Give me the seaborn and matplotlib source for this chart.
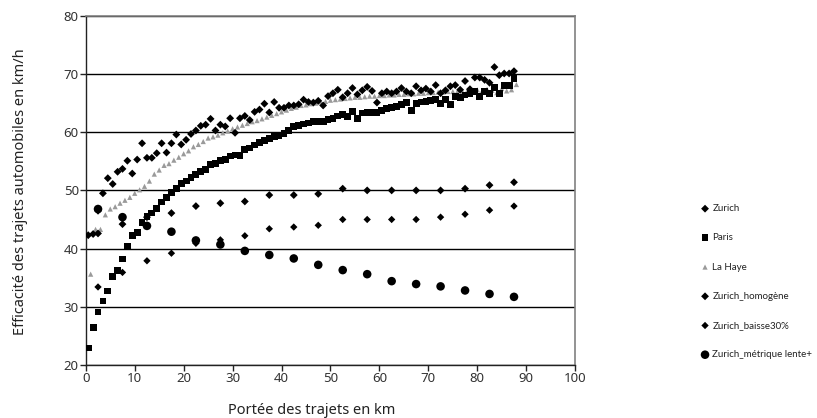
import matplotlib
matplotlib.use("Agg")
import matplotlib.pyplot as plt
import seaborn as sns

# distances (km) for the dense series
dist_half = [0.5, 1.5, 2.5, 3.5, 4.5, 5.5, 6.5, 7.5, 8.5, 9.5, 10.5, 11.5, 12.5, 13.5, 14.5, 15.5,
             16.5, 17.5, 18.5, 19.5, 20.5, 21.5, 22.5, 23.5, 24.5, 25.5, 26.5, 27.5, 28.5, 29.5,
             30.5, 31.5, 32.5, 33.5, 34.5, 35.5, 36.5, 37.5, 38.5, 39.5, 40.5, 41.5, 42.5, 43.5,
             44.5, 45.5, 46.5, 47.5, 48.5, 49.5, 50.5, 51.5, 52.5, 53.5, 54.5, 55.5, 56.5, 57.5,
             58.5, 59.5, 60.5, 61.5, 62.5, 63.5, 64.5, 65.5, 66.5, 67.5, 68.5, 69.5, 70.5, 71.5,
             72.5, 73.5, 74.5, 75.5, 76.5, 77.5, 78.5, 79.5, 80.5, 81.5, 82.5, 83.5, 84.5, 85.5,
             86.5, 87.5]
dist_int = [1, 2, 3, 4, 5, 6, 7, 8, 9, 10, 11, 12, 13, 14, 15, 16, 17, 18, 19, 20, 21, 22, 23,
            24, 25, 26, 27, 28, 29, 30, 31, 32, 33, 34, 35, 36, 37, 38, 39, 40, 41, 42, 43, 44,
            45, 46, 47, 48, 49, 50, 51, 52, 53, 54, 55, 56, 57, 58, 59, 60, 61, 62, 63, 64, 65,
            66, 67, 68, 69, 70, 71, 72, 73, 74, 75, 76, 77, 78, 79, 80, 81, 82, 83, 84, 85, 86,
            87, 88]
# distances for the sparse scenario series
dist_5 = [2.5, 7.5, 12.5, 17.5, 22.5, 27.5, 32.5, 37.5, 42.5, 47.5, 52.5, 57.5, 62.5, 67.5,
          72.5, 77.5, 82.5, 87.5]

zurich = [42.3, 42.5, 46.5, 49.5, 52.1, 51.1, 53.2, 53.7, 55.1, 52.9, 55.3, 58.1, 55.6, 55.6,
          56.4, 58.1, 56.5, 58.1, 59.6, 57.9, 58.7, 59.7, 60.3, 61.1, 61.3, 62.3, 60.3, 61.3,
          61.0, 62.4, 59.9, 62.4, 62.8, 62.1, 63.5, 63.9, 64.9, 63.4, 65.2, 64.2, 64.2, 64.6,
          64.6, 64.8, 65.6, 65.2, 65.1, 65.4, 64.6, 66.2, 66.7, 67.3, 66.0, 66.7, 67.6, 66.5,
          67.2, 67.8, 67.1, 65.1, 66.7, 67.0, 66.7, 67.0, 67.6, 67.0, 66.7, 67.9, 67.2, 67.5,
          67.0, 68.1, 66.7, 67.2, 67.9, 68.1, 67.3, 68.8, 67.4, 69.4, 69.4, 69.0, 68.5, 71.2,
          69.8, 70.1, 70.1, 70.5]
paris = [22.9, 26.5, 29.1, 31.0, 32.7, 35.2, 36.2, 38.2, 40.4, 42.2, 42.7, 44.5, 45.5, 46.1,
         46.9, 48.0, 48.8, 49.6, 50.3, 51.2, 51.6, 52.2, 52.8, 53.2, 53.6, 54.4, 54.6, 55.2,
         55.3, 55.9, 56.1, 56.0, 57.0, 57.3, 57.8, 58.2, 58.6, 58.9, 59.2, 59.5, 59.8, 60.3,
         61.0, 61.2, 61.4, 61.6, 61.8, 61.8, 61.9, 62.2, 62.4, 62.8, 63.0, 62.7, 63.5, 62.4,
         63.3, 63.4, 63.4, 63.4, 63.8, 64.1, 64.2, 64.4, 64.8, 65.1, 63.8, 65.0, 65.2, 65.3,
         65.4, 65.6, 65.0, 65.6, 64.7, 66.2, 66.0, 66.4, 66.7, 67.0, 66.1, 67.0, 66.6, 67.7,
         66.7, 68.0, 68.0, 69.2]
la_haye = [35.6, 43.3, 43.3, 45.8, 46.8, 47.2, 47.8, 48.3, 48.8, 49.5, 50.1, 50.7, 51.6, 52.8,
           53.5, 54.3, 54.6, 55.2, 55.7, 56.3, 56.8, 57.5, 57.9, 58.4, 59.0, 59.2, 59.5, 59.9,
           60.2, 60.6, 60.9, 61.2, 61.5, 61.8, 62.0, 62.3, 62.6, 62.9, 63.2, 63.5, 63.8, 64.1,
           64.3, 64.6, 64.7, 64.9, 65.0, 65.2, 65.3, 65.5, 65.6, 65.7, 65.8, 65.9, 66.0, 66.0,
           66.1, 66.2, 66.2, 66.3, 66.3, 66.4, 66.4, 66.5, 66.5, 66.6, 66.6, 66.7, 66.7, 66.8,
           66.8, 66.9, 66.9, 67.0, 67.0, 67.1, 66.9, 67.2, 67.0, 67.3, 67.1, 67.4, 67.2, 66.8,
           67.5, 67.1, 67.3, 68.2]
zurich_homogene = [42.6, 44.2, 45.4, 46.1, 47.3, 47.8, 48.1, 49.2, 49.2, 49.4, 50.3, 50.0,
                   50.0, 50.0, 50.0, 50.3, 50.9, 51.4]
zurich_baisse = [33.4, 35.9, 37.9, 39.2, 40.9, 41.5, 42.2, 43.4, 43.7, 44.0, 45.0, 45.0, 45.0,
                 45.0, 45.4, 45.9, 46.6, 47.3]
zurich_lente = [46.8, 45.4, 43.9, 42.9, 41.4, 40.7, 39.6, 38.9, 38.3, 37.2, 36.3, 35.6, 34.4,
                33.9, 33.5, 32.8, 32.2, 31.7]

sns.set_style("white")
plt.rcParams['font.family'] = ['Noto Sans', 'DejaVu Sans']

fig = plt.figure(figsize=(8.17, 4.18), dpi=100)
ax = fig.add_axes([0.105, 0.127, 0.599, 0.835])

sns.scatterplot(x=dist_half, y=zurich, marker='D', s=16, color='black', edgecolor='none',
                label='Zurich', ax=ax, zorder=4)
sns.scatterplot(x=dist_half, y=paris, marker='s', s=24, color='black', edgecolor='none',
                label='Paris', ax=ax, zorder=4)
sns.scatterplot(x=dist_int, y=la_haye, marker='^', s=14, color='#9a9a9a', edgecolor='none',
                label='La Haye', ax=ax, zorder=3)
sns.scatterplot(x=dist_5, y=zurich_homogene, marker='D', s=16, color='black', edgecolor='none',
                label='Zurich_homogène', ax=ax, zorder=4)
sns.scatterplot(x=dist_5, y=zurich_baisse, marker='D', s=14, color='black', edgecolor='none',
                label='Zurich_baisse30%', ax=ax, zorder=4)
sns.scatterplot(x=dist_5, y=zurich_lente, marker='o', s=38, color='black', edgecolor='none',
                label='Zurich_métrique lente+', ax=ax, zorder=5)

ax.set_xlim(0, 100)
ax.set_ylim(20, 80)
ax.set_xticks(range(0, 101, 10))
ax.set_yticks(range(20, 81, 10))
ax.yaxis.grid(True, color='black', linewidth=1)
ax.xaxis.grid(False)
ax.set_axisbelow(True)
for side in ['top', 'right']:
    ax.spines[side].set_color('#808080')
    ax.spines[side].set_linewidth(1.2)
for side in ['left', 'bottom']:
    ax.spines[side].set_color('#222222')
    ax.spines[side].set_linewidth(1)
ax.tick_params(axis='both', direction='out', length=4, width=1, color='#222222',
               labelsize=9.5, labelcolor='#333333', pad=1)
ax.tick_params(axis='x', bottom=True)
ax.tick_params(axis='y', left=True)

ax.set_xlabel('Portée des trajets en km', fontsize=10.5, color='#222222')
ax.set_ylabel('Efficacité des trajets automobiles en km/h', fontsize=10.5, color='#222222')
ax.xaxis.set_label_coords(0.462, -0.11)
ax.yaxis.set_label_coords(-0.118, 0.495)

# legend on the right, shrink the text until the longest label fits in the figure
handles, labels = ax.get_legend_handles_labels()
leg_font = ['Noto Sans Condensed', 'Lato', 'DejaVu Sans']
for size in [9.5, 9, 8.5, 8, 7.5, 7]:
    leg = ax.legend(handles, labels, loc='center left', bbox_to_anchor=(0.857, 0.326),
                    bbox_transform=fig.transFigure, frameon=False,
                    prop={'family': leg_font, 'size': size, 'stretch': 'condensed'},
                    labelspacing=(21.2 - 0.95 * size) / size, handletextpad=0.25,
                    handlelength=1.0, borderaxespad=0, borderpad=0)
    fig.canvas.draw()
    if leg.get_window_extent().x1 <= 814:
        break
for t in leg.get_texts():
    t.set_color('#222222')

fig.savefig('out.png', dpi=100)
